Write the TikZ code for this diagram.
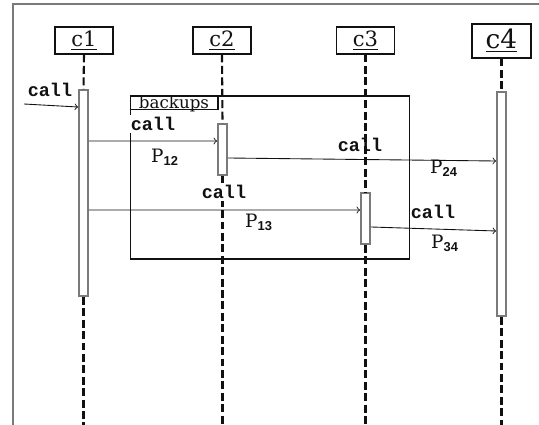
\documentclass[tikz,border=0pt]{standalone}
\usepackage{fontspec}
\setmainfont{DejaVu Serif}
\setsansfont{Liberation Sans}
\setmonofont{Liberation Mono}
\usepackage{tikz}
\usetikzlibrary{positioning}
\definecolor{ink}{HTML}{111111}
\definecolor{rulegray}{HTML}{7A7A7A}
\newcommand{\callfont}{\fontsize{10.5}{12}\ttfamily\bfseries}
\newcommand{\pmsg}[1]{P\textsubscript{\sffamily\bfseries #1}}

\begin{document}
\begin{tikzpicture}[x=0.02cm, y=-0.02cm,
  every node/.style={text=ink},
  obj/.style={draw=ink, line width=0.6pt, fill=white, minimum width=1.16cm,
              minimum height=0.54cm, inner sep=0pt, font=\fontsize{12}{14}\selectfont},
  act/.style={draw=rulegray, line width=1pt, fill=white, minimum width=0.18cm, inner sep=0pt},
  life/.style={draw=ink, line width=1.2pt, dash pattern=on 4.5pt off 2pt},
  msg/.style={draw=ink, line width=0.5pt, ->},
  lbl/.style={font=\callfont, inner sep=1pt},
  plbl/.style={font=\fontsize{10.5}{12}\selectfont, inner sep=1pt},
  frm/.style={draw=ink, line width=0.6pt, minimum width=5.6cm, minimum height=3.26cm, inner sep=0pt}
]
  \useasboundingbox (0,0) rectangle (539,425);
  % page frame
  \draw[rulegray, line width=1pt] (13,425) -- (13,4) -- (539,4);

  % objects
  \node[obj] (c1) at (84,40.5) {\underline{c1}};
  \node[obj] (c2) at (222,40.5) {\underline{c2}};
  \node[obj] (c3) at (365.5,40.5) {\underline{c3}};
  \node[obj, minimum width=1.18cm, minimum height=0.68cm, font=\fontsize{15}{17}\selectfont] (c4) at (501.5,41) {\underline{c4}};

  % combined fragment
  \node[frm] (bk) at (270,177.5) {};
  \node[draw=ink, line width=0.6pt, anchor=north west, minimum width=1.76cm, minimum height=0.27cm,
        inner sep=0pt, text height=7pt, text depth=0pt, font=\fontsize{9.5}{11}\selectfont]
        (bktab) at (bk.north west) {backups};

  % activations
  \node[act, minimum height=4.12cm] (a1) at (83.5,193) {};
  \node[act, minimum height=1.02cm] (a2) at (222.5,149.5) {};
  \node[act, minimum height=1.02cm] (a3) at (365.5,218.5) {};
  \node[act, minimum height=4.48cm] (a4) at (501.5,204) {};

  % lifelines
  \coordinate (e1) at (83.5,425);
  \coordinate (e2) at (222.5,425);
  \coordinate (e3) at (365.5,425);
  \coordinate (e4) at (501.5,425);
  \draw[life] (c1.south) -- (a1.north);
  \draw[life] (a1.south) -- (e1);
  \draw[life] (c2.south) -- (a2.north);
  \draw[life] (a2.south) -- (e2);
  \draw[life] (c3.south) -- (a3.north);
  \draw[life] (a3.south) -- (e3);
  \draw[life] (c4.south) -- (a4.north);
  \draw[life] (a4.south) -- (e4);

  % messages
  \coordinate (src) at (24,104);
  \draw[msg] (src) -- ([yshift=1.72cm]a1.west);
  \draw[msg] ([yshift=1.04cm]a1.east) -- ([yshift=0.17cm]a2.west);
  \draw[msg] ([yshift=-0.17cm]a2.east) -- ([yshift=0.86cm]a4.west);
  \draw[msg] ([yshift=-0.34cm]a1.east) -- ([yshift=0.17cm]a3.west);
  \draw[msg] ([yshift=-0.17cm]a3.east) -- ([yshift=-0.54cm]a4.west);

  % labels
  \node[lbl] (l0) at (50,90) {call};
  \node[lbl, fill=white] (l12) at (153,124) {call};
  \node[plbl] (p12) at (165,157) {\pmsg{12}};
  \node[lbl] (l24) at (360,145) {call};
  \node[plbl] (p24) at (444,168) {\pmsg{24}};
  \node[lbl, fill=white] (l13) at (224,192) {call};
  \node[plbl] (p13) at (259,222) {\pmsg{13}};
  \node[lbl] (l34) at (433,212) {call};
  \node[plbl] (p34) at (445,243) {\pmsg{34}};
\end{tikzpicture}
\end{document}
